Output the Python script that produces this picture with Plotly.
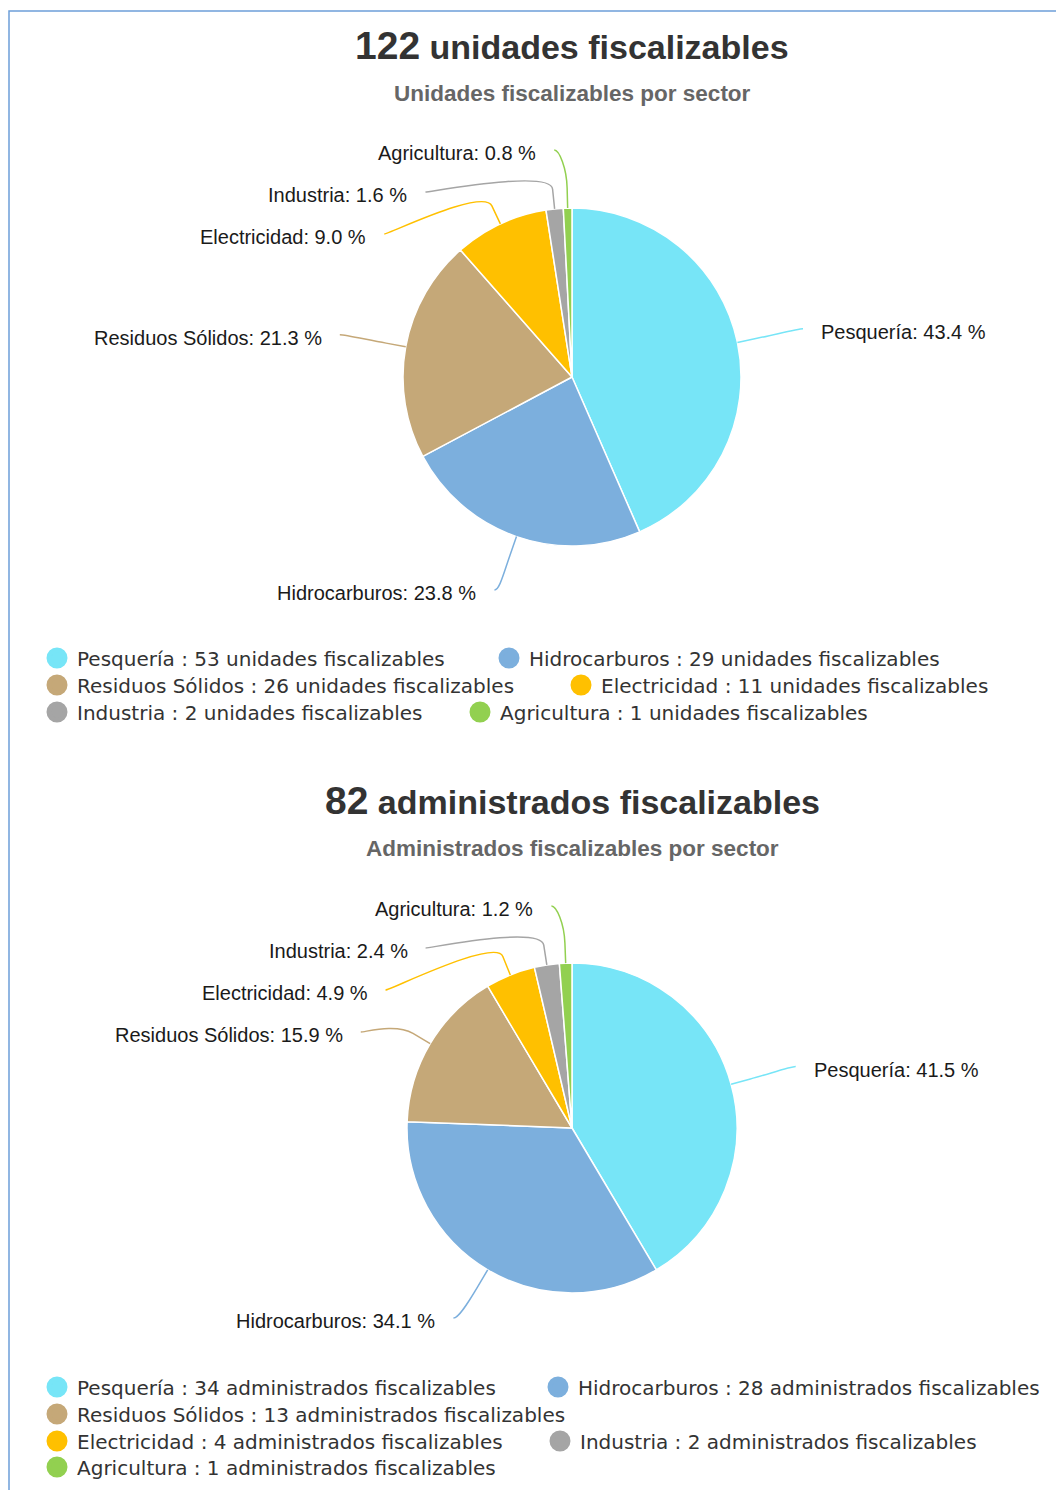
import math
import plotly.graph_objects as go

W, H = 1056, 1490

# ---------------- data ----------------
sectores = ["Pesquería", "Hidrocarburos", "Residuos Sólidos", "Electricidad", "Industria", "Agricultura"]
colores = ["#77e5f7", "#7cafdd", "#c5a878", "#ffc000", "#a5a5a5", "#92d050"]
unidades = [53, 29, 26, 11, 2, 1]
administrados = [34, 28, 13, 4, 2, 1]

titulo1_sufijo = "unidades fiscalizables"
subtitulo1 = "Unidades fiscalizables por sector"
titulo2_sufijo = "administrados fiscalizables"
subtitulo2 = "Administrados fiscalizables por sector"

# ---------------- layout parameters (pixels) ----------------
charts = [
    dict(values=unidades, unit="unidades fiscalizables", title_suffix=titulo1_sufijo, subtitle=subtitulo1,
         cx=572, cy=377, r=169, title_y=45, subtitle_y=93, label_top=150, label_bottom=590,
         legend_pos=[(77, 658), (529, 658), (77, 685), (601, 685), (77, 712), (500, 712)]),
    dict(values=administrados, unit="administrados fiscalizables", title_suffix=titulo2_sufijo, subtitle=subtitulo2,
         cx=572, cy=1128, r=165, title_y=800, subtitle_y=848, label_top=906, label_bottom=1318,
         legend_pos=[(77, 1387), (578, 1387), (77, 1414), (77, 1441), (580, 1441), (77, 1467)]),
]

LABEL_DIST = 67
BREAK_DIST = 20
LABEL_STEP = 42
LABEL_PAD = 17


def label_layout(values, cx, cy, r, top, bottom):
    total = sum(values)
    cum = 0.0
    items = []
    for i, v in enumerate(values):
        mid = (cum + v / 2.0) / total
        cum += v
        th = 2 * math.pi * mid
        s, c = math.sin(th), -math.cos(th)
        R = r + LABEL_DIST
        items.append(dict(i=i, left=s < 0, s=s, c=c, R=R,
                          tx=cx + r * s, ty=cy + r * c,
                          bx=cx + (r + BREAK_DIST) * s, by=cy + (r + BREAK_DIST) * c,
                          nx=cx + R * s, ny=cy + R * c))
    for side in (True, False):
        grp = sorted([it for it in items if it["left"] == side], key=lambda d: d["ny"])
        prev = None
        for it in grp:
            y = max(it["ny"], top)
            if prev is not None:
                y = max(y, prev + LABEL_STEP)
            it["y"] = y
            prev = y
        nxt = None
        for it in reversed(grp):
            y = min(it["y"], bottom)
            if nxt is not None:
                y = min(y, nxt - LABEL_STEP)
            it["y"] = y
            nxt = y
        for it in grp:
            y = it["y"]
            if y <= top + 2:
                # clamped at the top: blend natural and circular x (keeps connector short)
                dy_n = it["ny"] - cy
                dy_c = y - cy
                xn = math.sqrt(max(it["R"] ** 2 - dy_n ** 2, 0.0))
                xc = math.sqrt(max(it["R"] ** 2 - dy_c ** 2, 0.0))
                dx = 0.8 * xn + 0.2 * xc
            else:
                yy = it["ny"] if y >= bottom - 2 else y
                dy = yy - cy
                dx = math.sqrt(max(it["R"] ** 2 - dy ** 2, 0.0))
            it["x"] = cx - dx if side else cx + dx
    return items


fig = go.Figure()
shapes = []
annotations = []
legends = {}
legend_idx = 0

for ch in charts:
    vals = ch["values"]
    total = sum(vals)
    cx, cy, r = ch["cx"], ch["cy"], ch["r"]
    fig.add_trace(go.Pie(
        labels=sectores, values=vals, sort=False, direction="clockwise", rotation=0,
        marker=dict(colors=colores, line=dict(color="white", width=1.5)),
        textinfo="none", hoverinfo="label+value+percent", showlegend=False,
        domain=dict(x=[(cx - r) / W, (cx + r) / W], y=[1 - (cy + r) / H, 1 - (cy - r) / H]),
    ))

    # title / subtitle
    annotations.append(dict(
        x=cx, y=ch["title_y"], xref="x", yref="y", showarrow=False, xanchor="center", yanchor="middle",
        text=f"<b><span style='font-size:39px'>{total}</span> {ch['title_suffix']}</b>",
        font=dict(family="Liberation Sans, Arial", size=34, color="#333333")))
    annotations.append(dict(
        x=cx, y=ch["subtitle_y"], xref="x", yref="y", showarrow=False, xanchor="center", yanchor="middle",
        text=f"<b>{ch['subtitle']}</b>",
        font=dict(family="Liberation Sans, Arial", size=22.5, color="#666666")))

    # data labels + connectors
    for it in label_layout(vals, cx, cy, r, ch["label_top"], ch["label_bottom"]):
        i = it["i"]
        d = 1 if it["left"] else -1
        x, y = it["x"], it["y"]
        path = (f"M {x:.2f},{y:.2f} C {x + d * 5:.2f},{y:.2f} "
                f"{2 * it['bx'] - it['tx']:.2f},{2 * it['by'] - it['ty']:.2f} "
                f"{it['bx']:.2f},{it['by']:.2f} L {it['tx']:.2f},{it['ty']:.2f}")
        shapes.append(dict(type="path", path=path, xref="x", yref="y",
                           line=dict(color=colores[i], width=1.5), layer="above"))
        pct = vals[i] / total * 100
        annotations.append(dict(
            x=x - d * LABEL_PAD, y=y + 3, xref="x", yref="y", showarrow=False, borderpad=0,
            xanchor="right" if it["left"] else "left", yanchor="middle",
            text=f"{sectores[i]}: {pct:.1f} %",
            font=dict(family="Liberation Sans, Arial", size=20, color="#1a1a1a")))

    # legend entries
    for i, (lx, ly) in enumerate(ch["legend_pos"]):
        legend_idx += 1
        lid = "legend" if legend_idx == 1 else f"legend{legend_idx}"
        fig.add_trace(go.Scatter(
            x=[None], y=[None], mode="markers", name=f"{sectores[i]} : {vals[i]} {ch['unit']}",
            marker=dict(symbol="circle", size=16, color=colores[i], line=dict(color=colores[i], width=5)),
            legend=lid, showlegend=True, hoverinfo="skip"))
        legends[lid] = dict(
            x=(lx - 40) / W, xanchor="left", y=1 - ly / H, yanchor="middle", orientation="h",
            bgcolor="rgba(0,0,0,0)", borderwidth=0, itemsizing="trace",
            font=dict(family="DejaVu Sans", size=20, color="#333333"))

# outer frame
shapes.append(dict(type="rect", xref="x", yref="y", x0=9, y0=11, x1=W + 20, y1=H + 20,
                   line=dict(color="#6d9fd9", width=1.5), layer="below"))

fig.update_layout(
    width=W, height=H, margin=dict(l=0, r=0, t=0, b=0),
    paper_bgcolor="white", plot_bgcolor="white",
    xaxis=dict(range=[0, W], visible=False, fixedrange=True, domain=[0, 1]),
    yaxis=dict(range=[H, 0], visible=False, fixedrange=True, domain=[0, 1]),
    shapes=shapes, annotations=annotations,
    **legends,
)

fig.write_html("out.html", config={"displayModeBar": False},
               post_script="document.body.style.margin='0';")
